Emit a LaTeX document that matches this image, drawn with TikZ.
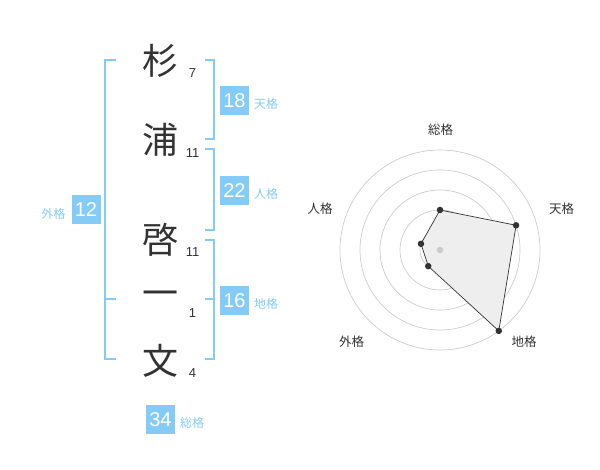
\documentclass[tikz,border=0pt]{standalone}
\usepackage{fontspec}
\usetikzlibrary{calc}
\setmainfont{Liberation Sans}
\newfontfamily\cjk{Noto Sans CJK JP}
\definecolor{kblue}{HTML}{84CBF7}
\definecolor{ktext}{HTML}{333333}
\definecolor{kgrid}{HTML}{CCCCCC}
\definecolor{kfill}{HTML}{EEEEEE}
\begin{document}
\begin{tikzpicture}[x=1pt,y=-1pt,
  kanji/.style={inner sep=0pt,text=ktext,font=\cjk\fontsize{36}{36}\selectfont},
  strokes/.style={inner sep=0pt,text=ktext,font=\fontsize{13}{13}\selectfont},
  valbox/.style={fill=kblue,text=white,minimum size=29pt,inner sep=0pt,font=\fontsize{20}{20}\selectfont},
  kaku/.style={inner sep=0pt,text=kblue,font=\cjk\fontsize{12}{12}\selectfont},
  brk/.style={draw=kblue,line width=2pt},
  grid/.style={draw=kgrid,line width=0.7pt},
  rlabel/.style={inner sep=0pt,text=ktext,font=\cjk\fontsize{12.5}{12.5}\selectfont},
  rdot/.style={circle,fill=ktext,inner sep=0pt,minimum size=6.5pt}]
\useasboundingbox (0,0) rectangle (600,470);
% characters
\node[kanji] (c1) at (160,61) {杉};
\node[kanji] (c2) at (160,140) {浦};
\node[kanji] (c3) at (160,240) {啓};
\node[kanji] (c4) at (160,299) {一};
\node[kanji] (c5) at (160,361) {文};
\node[strokes] (n1) at (192.5,73.5) {7};
\node[strokes] (n2) at (192.5,153.5) {11};
\node[strokes] (n3) at (192.5,252.5) {11};
\node[strokes] (n4) at (192.5,313.5) {1};
\node[strokes] (n5) at (192.5,373.5) {4};
% brackets
\draw[brk] (116,60) -- (105,60) -- (105,359) -- (116,359);
\draw[brk] (105,299) -- (116,299);
\draw[brk] (205,60) -- (214,60) -- (214,139) -- (205,139);
\draw[brk] (205,149) -- (214,149) -- (214,230) -- (205,230);
\draw[brk] (205,240) -- (214,240) -- (214,359) -- (205,359);
\draw[brk] (205,299) -- (214,299);
% value boxes
\node[valbox] (ten) at (234.5,100.5) {18};
\node[kaku] (tenl) at (266,103.5) {天格};
\node[valbox] (jin) at (234.5,190.5) {22};
\node[kaku] (jinl) at (266,193.5) {人格};
\node[valbox] (chi) at (234.5,300.5) {16};
\node[kaku] (chil) at (266,303.5) {地格};
\node[valbox] (gai) at (86,210) {12};
\node[kaku] (gail) at (53.5,213.5) {外格};
\node[valbox] (sou) at (160.5,419.5) {34};
\node[kaku] (soul) at (192,422.5) {総格};
% radar
\coordinate (O) at (440,250);
\foreach \r in {20,40,60,80,100} \draw[grid] (O) circle (\r);
\coordinate (pS) at ($(O)+(-90:40)$);
\coordinate (pT) at ($(O)+(-18:80)$);
\coordinate (pC) at ($(O)+(54:100)$);
\coordinate (pG) at ($(O)+(126:20)$);
\coordinate (pJ) at ($(O)+(-162:20)$);
\draw[fill=kfill,draw=ktext,line width=0.7pt] (pS) -- (pT) -- (pC) -- (pG) -- (pJ) -- cycle;
\node[circle,fill=kgrid,inner sep=0pt,minimum size=6.5pt] (ctr) at (O) {};
\foreach \p in {pS,pT,pC,pG,pJ} \node[rdot] (d\p) at (\p) {};
\node[rlabel] (lS) at (440.7,130) {総格};
\node[rlabel] (lT) at (561.7,208.3) {天格};
\node[rlabel] (lJ) at (320,208.3) {人格};
\node[rlabel] (lG) at (351.7,341.7) {外格};
\node[rlabel] (lC) at (524,341.7) {地格};
\end{tikzpicture}
\end{document}
